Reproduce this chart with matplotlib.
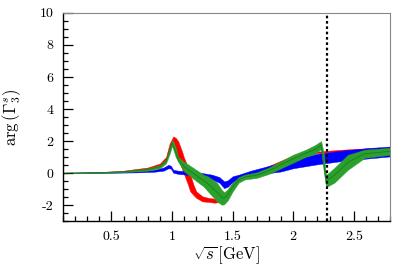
import matplotlib
matplotlib.use("Agg")
import matplotlib.pyplot as plt
from matplotlib.ticker import MultipleLocator, FuncFormatter

plt.rcParams["font.family"] = "serif"
plt.rcParams["font.serif"] = ["cmr10", "DejaVu Serif"]
plt.rcParams["mathtext.fontset"] = "cm"
plt.rcParams["axes.formatter.use_mathtext"] = True

# blue band: sqrt(s), lower, upper
blue_x = [0.10, 0.30, 0.50, 0.70, 0.85, 0.93, 0.97, 0.99, 1.01, 1.05, 1.15, 1.25,
          1.33, 1.39, 1.43, 1.46, 1.50, 1.55, 1.65, 1.80, 1.90, 2.00, 2.20, 2.40,
          2.60, 2.80]
blue_lo = [-0.02, 0.0, 0.02, 0.04, 0.08, 0.15, 0.30, 0.28, 0.02, -0.05, -0.12, -0.20,
           -0.40, -0.60, -0.94, -0.85, -0.55, -0.40, -0.20, 0.00, 0.10, 0.30, 0.55,
           0.75, 0.90, 1.04]
blue_hi = [0.02, 0.04, 0.08, 0.12, 0.20, 0.35, 0.52, 0.45, 0.20, 0.15, 0.10, 0.00,
           -0.10, -0.25, -0.52, -0.45, -0.20, -0.10, 0.15, 0.45, 0.64, 0.85, 1.20,
           1.40, 1.55, 1.66]

# red band
red_x = [0.10, 0.40, 0.60, 0.80, 0.90, 0.95, 0.98, 1.01, 1.03, 1.05, 1.08, 1.10,
         1.13, 1.15, 1.18, 1.20, 1.25, 1.30, 1.35, 1.40, 1.45, 1.50, 1.55, 1.65,
         1.80, 2.00, 2.20, 2.40, 2.60, 2.80]
red_lo = [-0.02, 0.02, 0.08, 0.20, 0.45, 0.80, 1.40, 2.00, 1.50, 0.90, 0.30, -0.10,
          -0.70, -1.15, -1.40, -1.55, -1.77, -1.80, -1.85, -1.80, -1.50, -0.90,
          -0.50, -0.20, 0.30, 0.95, 1.24, 1.36, 1.44, 1.50]
red_hi = [0.02, 0.06, 0.15, 0.35, 0.60, 1.00, 1.85, 2.29, 2.20, 2.00, 1.40, 0.93,
          0.40, -0.10, -0.80, -1.15, -1.45, -1.55, -1.60, -1.55, -1.20, -0.60,
          -0.30, -0.05, 0.45, 1.10, 1.34, 1.46, 1.54, 1.60]

# green band
green_x = [0.10, 0.40, 0.60, 0.80, 0.90, 0.95, 0.98, 1.00, 1.03, 1.05, 1.10, 1.15,
           1.20, 1.26, 1.30, 1.37, 1.41, 1.43, 1.46, 1.50, 1.55, 1.60, 1.70, 1.80,
           1.90, 2.00, 2.10, 2.18, 2.23, 2.25, 2.27, 2.29, 2.34, 2.45, 2.59, 2.80]
green_lo = [-0.02, 0.00, 0.05, 0.15, 0.30, 0.60, 1.20, 1.70, 1.00, 0.70, 0.10, -0.20,
            -0.50, -0.84, -1.18, -1.77, -1.98, -1.95, -1.70, -1.15, -0.60, -0.40,
            -0.30, -0.05, 0.30, 0.65, 1.00, 1.20, 1.50, 0.20, -0.85, -0.80, -0.60,
            0.20, 0.95, 1.14]
green_hi = [0.02, 0.05, 0.12, 0.30, 0.50, 0.85, 1.60, 2.08, 1.60, 1.00, 0.70, 0.45,
            0.20, -0.10, -0.22, -0.60, -1.05, -1.20, -1.00, -0.60, -0.25, -0.10,
            0.05, 0.35, 0.75, 1.15, 1.45, 1.75, 2.00, 1.30, -0.10, 0.00, 0.33,
            1.14, 1.46, 1.58]

threshold = 2.275

fig = plt.figure(figsize=(4.12, 2.69), dpi=100)
ax = fig.add_axes([0.153, 0.178, 0.794, 0.774])

ax.fill_between(red_x, red_lo, red_hi, facecolor="#ff0000", edgecolor="#ff0000", lw=0.3)
ax.fill_between(blue_x, blue_lo, blue_hi, facecolor="#0000ff", edgecolor="#0000ff", lw=0.3)
ax.fill_between(green_x, green_lo, green_hi, facecolor="#2ca02c", edgecolor="#2ca02c", lw=0.3)
green_mid = [(a + b) / 2 for a, b in zip(green_lo, green_hi)]
ax.plot(green_x, green_mid, color="#1e7a1e", lw=0.6)

ax.axvline(threshold, color="black", ls=(0, (1.2, 1.2)), lw=1.6)

ax.set_xlim(0.1, 2.8)
ax.set_ylim(-3, 10)
ax.xaxis.set_major_locator(MultipleLocator(0.5))
ax.xaxis.set_minor_locator(MultipleLocator(0.1))
ax.yaxis.set_major_locator(MultipleLocator(2))
ax.yaxis.set_minor_locator(MultipleLocator(0.5))
fmt = FuncFormatter(lambda v, p: f"{v:g}")
ax.xaxis.set_major_formatter(fmt)
ax.yaxis.set_major_formatter(fmt)
ax.tick_params(which="both", direction="in", top=False, right=False, labelsize=10, width=0.9)
ax.tick_params(which="major", length=7, pad=7)
ax.tick_params(which="minor", length=3.5)

for s in ["top", "right"]:
    ax.spines[s].set_color("#888888")
for s in ["left", "bottom"]:
    ax.spines[s].set_color("black")
    ax.spines[s].set_linewidth(1.0)

ax.set_xlabel(r"$\sqrt{s}\,[\mathrm{GeV}]$", fontsize=12, labelpad=1)
ax.set_ylabel(r"$\mathrm{arg}\,(\Gamma_3^s)$", fontsize=12, labelpad=12)

fig.savefig("out.png", dpi=100)
